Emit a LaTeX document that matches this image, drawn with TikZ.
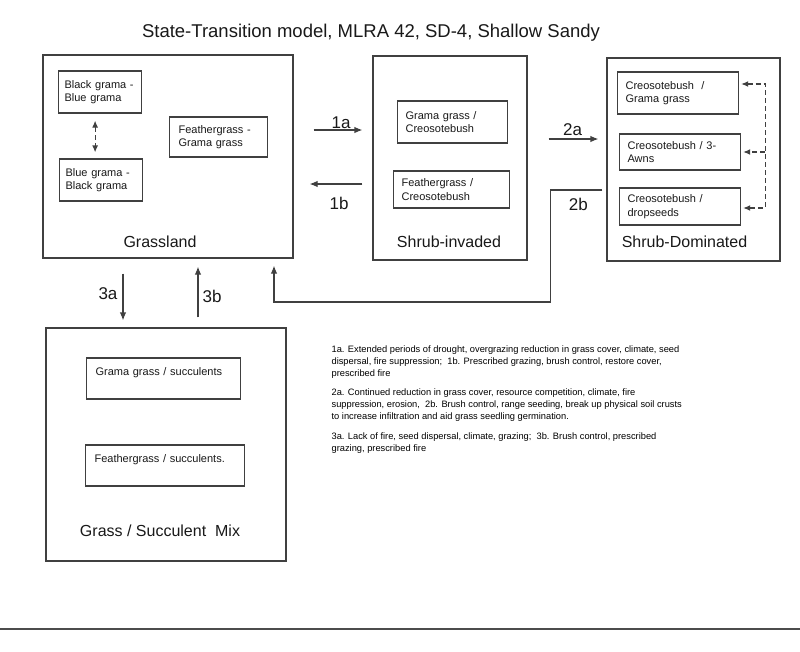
\documentclass[tikz,border=0pt]{standalone}
\usepackage{fontspec}
\setmainfont{Liberation Sans}
\usetikzlibrary{arrows.meta}

\begin{document}
\begin{tikzpicture}[x=1pt,y=-1pt,line width=1.2pt,draw=black!75,text=black!90,>={Latex[length=8pt,width=6.5pt]}]
  \tikzstyle{statebox}=[draw,shape=rectangle,inner sep=0pt]
  \tikzstyle{phasebox}=[draw,shape=rectangle,anchor=west,align=left,inner xsep=8pt,inner ysep=0pt,font=\fontsize{11}{13.5}\selectfont]
  \tikzstyle{statelabel}=[anchor=base,inner sep=0pt,font=\fontsize{16}{19}\selectfont]
  \tikzstyle{translabel}=[anchor=base,inner sep=0pt,font=\fontsize{17}{20}\selectfont]
  \tikzstyle{dashlink}=[dash pattern=on 5pt off 3pt]
  \tikzstyle{dashtip}=[-{Latex[length=7pt,width=6pt]}]
  \tikzstyle{dashtips}=[{Latex[length=7pt,width=6pt]}-{Latex[length=7pt,width=6pt]}]

  \useasboundingbox[fill=white] (0,0) rectangle (800,651);

  \node[anchor=base,font=\fontsize{18.5}{22}\selectfont] (title) at (371,37) {State-Transition model, MLRA 42, SD-4, Shallow Sandy};

  % states
  \node[statebox,minimum width=250,minimum height=203] (grass) at (168,156.5) {};
  \node[statebox,minimum width=154,minimum height=204] (shi) at (450,158) {};
  \node[statebox,minimum width=173,minimum height=203] (shd) at (693.5,159.5) {};
  \node[statebox,minimum width=240,minimum height=233] (gsm) at (166,444.5) {};

  \node[statelabel] (grasslab) at ([shift={(-8,-11)}]grass.south) {Grassland};
  \node[statelabel] (shilab) at ([shift={(-1,-13)}]shi.south) {Shrub-invaded};
  \node[statelabel] (shdlab) at ([shift={(-9,-14)}]shd.south) {Shrub-Dominated};
  \node[statelabel] (gsmlab) at ([shift={(-6,-25)}]gsm.south) {Grass / Succulent~ Mix};

  % community phases
  \node[phasebox,text width=71pt,minimum height=42,inner xsep=6pt] (bbg) at (58,92) {Black grama -\\Blue grama};
  \node[phasebox,text width=71pt,minimum height=42,inner xsep=6pt] (bgb) at (59,180) {Blue grama -\\Black grama};
  \node[phasebox,text width=80pt,minimum height=40,inner xsep=9pt] (fgg) at (169,137) {Feathergrass -\\Grama grass};
  \node[phasebox,text width=94pt,minimum height=42] (ggc) at (397,122) {Grama grass /\\Creosotebush};
  \node[phasebox,text width=100pt,minimum height=37] (fgc) at (393,189.5) {Feathergrass /\\Creosotebush};
  \node[phasebox,text width=105pt,minimum height=42] (cgg) at (617,93) {Creosotebush~ /\\Grama grass};
  \node[phasebox,text width=105pt,minimum height=36] (c3a) at (619,152) {Creosotebush / 3-\\Awns};
  \node[phasebox,text width=105pt,minimum height=37] (cds) at (619,206.5) {Creosotebush /\\dropseeds};
  \node[phasebox,text width=136pt,minimum height=41,inner xsep=9pt] (gsu) at (86,378.5) {Grama grass / succulents\\\mbox{}};
  \node[phasebox,text width=141pt,minimum height=41,inner xsep=9pt] (fsu) at (85,465.5) {Feathergrass / succulents.\\\mbox{}};

  \draw[dashtips,dashlink] ([shift={(-5,7)}]bbg.south) -- ([shift={(-6,-6)}]bgb.north);
  \draw[dashtips,dashlink] ([shift={(2,-9)}]cgg.east) -- ++(24,0) coordinate (dtop) |- ([shift={(2,1.5)}]cds.east);
  \draw[dashtip,dashlink] (dtop |- c3a.east) -- ([xshift=2pt]c3a.east);

  % transitions
  \draw[->] ([shift={(20,-26.5)}]grass.east) -- ([shift={(-10,-28)}]shi.west)
      node[translabel,midway,xshift=3pt,yshift=2pt] (l1a) {1a};
  \draw[->] ([shift={(-10,26)}]shi.west) -- ([shift={(16,27.5)}]grass.east)
      node[translabel,midway,xshift=3pt,yshift=-25pt] (l1b) {1b};
  \draw[->] ([shift={(21,-19)}]shi.east) -- ([shift={(-8,-20.5)}]shd.west)
      node[translabel,midway,xshift=-1pt,yshift=4pt] (l2a) {2a};
  \draw[->] ([shift={(-4,30.5)}]shd.west) -- ++(-52,0)
      node[translabel,midway,xshift=2pt,yshift=-20pt] (l2b) {2b}
      -- ++(0,112) -| ([shift={(106,7)}]grass.south);
  \draw[->] ([shift={(-45,15)}]grass.south) -- ([shift={(-43,-7)}]gsm.north)
      node[translabel,midway,xshift=-15pt,yshift=-2pt] (l3a) {3a};
  \draw[->] ([shift={(32,-10)}]gsm.north) -- ([shift={(30,8)}]grass.south)
      node[translabel,midway,xshift=14pt,yshift=-10pt] (l3b) {3b};

  \node[anchor=north west,align=left,inner sep=0pt,text=black,font=\fontsize{9.3}{12}\selectfont] (notes) at (331,345)
    {1a. Extended periods of drought, overgrazing reduction in grass cover, climate, seed\\
     dispersal, fire suppression;~ 1b. Prescribed grazing, brush control, restore cover,\\
     prescribed fire\\[7pt]
     2a. Continued reduction in grass cover, resource competition, climate, fire\\
     suppression, erosion,~ 2b. Brush control, range seeding, break up physical soil crusts\\
     to increase infiltration and aid grass seedling germination.\\[8pt]
     3a. Lack of fire, seed dispersal, climate, grazing;~ 3b. Brush control, prescribed\\
     grazing, prescribed fire};

  \draw[black!70,line width=1.3pt] (0,629) -- (800,629);
\end{tikzpicture}
\end{document}
